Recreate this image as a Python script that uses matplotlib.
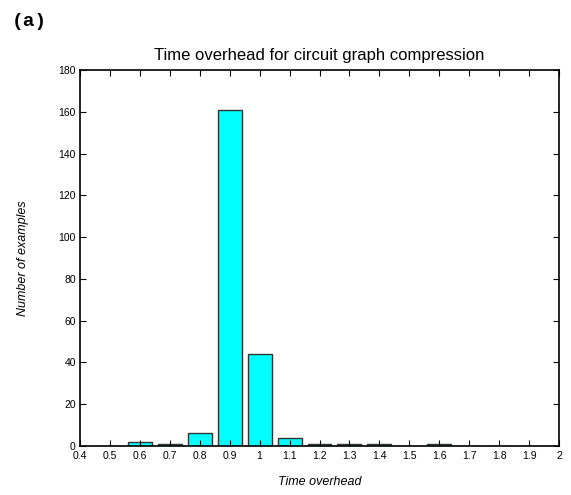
import matplotlib
matplotlib.use("Agg")
import matplotlib.pyplot as plt

# histogram data (bin centers and counts)
centers = [0.5, 0.6, 0.7, 0.8, 0.9, 1.0, 1.1, 1.2, 1.3, 1.4, 1.5, 1.6, 1.7, 1.8, 1.9, 2.0]
counts = [0, 2, 1, 6, 161, 44, 4, 1, 1, 1, 0, 1, 0, 0, 0, 0]
xticks = [0.4, 0.5, 0.6, 0.7, 0.8, 0.9, 1, 1.1, 1.2, 1.3, 1.4, 1.5, 1.6, 1.7, 1.8, 1.9, 2]
xticklabels = ["0.4", "0.5", "0.6", "0.7", "0.8", "0.9", "1", "1.1", "1.2", "1.3", "1.4",
               "1.5", "1.6", "1.7", "1.8", "1.9", "2"]
yticks = [0, 20, 40, 60, 80, 100, 120, 140, 160, 180]

plt.rcParams['font.family'] = ['Liberation Sans', 'DejaVu Sans']

fig = plt.figure(figsize=(5.71, 4.95), dpi=100)
ax = fig.add_axes([80 / 571, 1 - 446 / 495, 479 / 571, 376 / 495])

ax.bar(centers, counts, width=0.08, color="cyan", edgecolor="#333333", linewidth=1.0)

ax.set_xlim(0.4, 2.0)
ax.set_ylim(0, 180)
ax.set_xticks(xticks)
ax.set_xticklabels(xticklabels)
ax.set_yticks(yticks)
ax.tick_params(direction="in", top=True, right=True, labelsize=7.5, length=4, width=0.8)
ax.tick_params(axis="x", pad=3.5)
ax.tick_params(axis="y", pad=3)
for s in ax.spines.values():
    s.set_linewidth(1.2)

ax.set_title("Time overhead for circuit graph compression", fontsize=12, pad=7)
ax.set_xlabel("Time overhead", fontsize=9, style="italic", labelpad=11)
ax.set_ylabel("Number of examples", fontsize=9, style="italic", labelpad=21)

fig.text(12 / 571, 1 - 21 / 495, "(a)", family="Liberation Mono", fontsize=14,
         fontweight="bold", va="center", ha="left")

fig.savefig("out.png", dpi=100)
